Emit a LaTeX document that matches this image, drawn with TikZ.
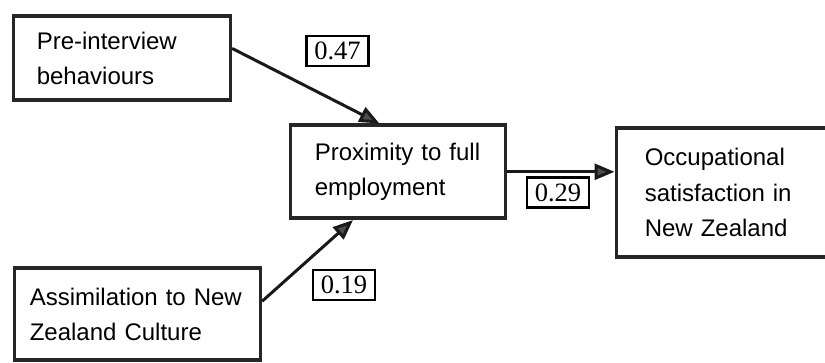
\documentclass[tikz,border=0pt]{standalone}
\usepackage{fontspec}
\setmainfont{Liberation Sans}
\newfontfamily\numfont{Liberation Serif}
\usetikzlibrary{arrows.meta,calc}
\begin{document}
\begin{tikzpicture}[x=1pt,y=-1pt,
  box/.style={draw=black!85,line width=3.6pt,anchor=north west,align=left,inner ysep=0pt,
    font=\fontsize{24}{35.5}\selectfont},
  coef/.style={draw=black,line width=2.2pt,minimum width=62pt,minimum height=30pt,inner sep=0pt,
    font=\numfont\fontsize{26.5}{28}\selectfont},
  link/.style={draw=black!90,line width=3pt,-{Triangle[length=20pt,width=16pt,fill=black!70]}}]
\clip (0,0) rectangle (825,363);
\node[box,minimum width=217pt,minimum height=84pt,text width=170pt,inner xsep=23.5pt] (pre) at (11.5,14.5) {Pre-interview\\behaviours};
\node[box,minimum width=215pt,minimum height=93pt,text width=166pt,inner xsep=24.5pt] (prox) at (288.5,123.5) {Proximity to full\\employment};
\node[box,minimum width=240pt,minimum height=129pt,text width=183pt,inner xsep=28.5pt] (occ) at (614.5,126.5) {Occupational\\satisfaction in\\New Zealand};
\node[box,minimum width=246pt,minimum height=92pt,text width=215pt,inner xsep=15.5pt] (assim) at (12.5,266.5) {Assimilation to New\\Zealand Culture};
\node[coef] (c47) at (337.5,51) {0.47};
\node[coef] (c29) at (558,192.5) {0.29};
\node[coef] (c19) at (344,285) {0.19};
\draw[link] ($(pre.north east)!0.387!(pre.south east)$) -- ($(prox.north west)!0.416!(prox.north east)$);
\draw[link] ($(assim.north east)!0.364!(assim.south east)$) -- ($(prox.south west)!0.295!(prox.south east)$);
\draw[link] (prox.east) -- (prox.east -| occ.west);
\end{tikzpicture}
\end{document}
